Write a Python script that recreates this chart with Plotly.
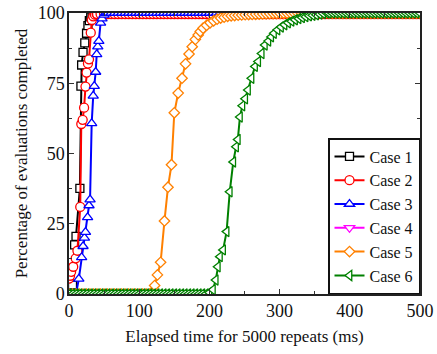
import plotly.graph_objects as go

# Sample grid used for the flat stretches (before a case starts / after it saturates)
STEP = 5
X_MAX = 500

# Rising part of each cumulative curve: elapsed time (ms) vs. percent completed
case1_x = [2, 5, 8, 10, 15.5, 17, 18, 20, 22.5, 25, 27, 29, 31, 33, 35.5, 38]
case1_y = [1.2, 3.2, 17.5, 20.5, 37.6, 74, 81.5, 86, 89.4, 92.8, 95.5, 97.3, 98.6, 99.3, 99.7, 100]

case2_x = [0, 1.5, 3, 6, 9.5, 12, 16, 17.5, 19.5, 21.5, 23.5, 25, 27, 28.5, 31, 32.5, 34.5, 37, 39.5]
case2_y = [5.5, 6.5, 7.9, 9.7, 12.7, 15.4, 31, 60.5, 62, 66.3, 73.8, 78.8, 82, 83.5, 93, 97.5, 98.8, 99.4, 99.6]

case3_x = [14, 18, 20, 22, 23.5, 26.5, 28.5, 30, 32.3, 34.5, 36, 38, 39.5, 41, 42.5, 45, 47, 50, 52.5]
case3_y = [5.4, 13, 17, 20, 22, 27.3, 31.5, 33.6, 60.7, 70.5, 74, 79, 85.3, 88, 90, 96.5, 98, 99.3, 100]

case4_x = [None]
case4_y = [None]

case5_x = [118, 122, 126, 130.5, 136, 141, 146, 150, 155.5, 161, 166, 171, 175.5, 180, 184, 187,
           191, 196, 201, 206, 211, 216, 221, 226, 231, 236, 241, 246, 251, 256, 261, 266, 271,
           276, 281, 286, 291, 296, 301, 306, 311, 316, 321, 326, 331]
case5_y = [0.5, 3, 6.8, 11.3, 26, 38, 46, 64.5, 71.5, 76.8, 81.9, 85.4, 88, 90.6, 92.2, 93.4,
           94.6, 95.6, 96.5, 97.2, 97.8, 98.2, 98.5, 98.8, 99, 99.1, 99.2, 99.3, 99.4, 99.45, 99.5,
           99.55, 99.6, 99.65, 99.7, 99.75, 99.8, 99.82, 99.85, 99.88, 99.9, 99.92, 99.95, 99.97, 100]

case6_x = [200, 205, 209, 212, 215, 219.5, 224.5, 229, 234, 238, 240.5, 243.5, 247, 251, 255, 260,
           265, 269.5, 274.5, 279, 284, 288, 292, 297, 302, 307, 312, 317, 322, 327, 332, 337,
           342, 347, 352, 357, 362, 367]
case6_y = [0.5, 1.5, 5, 9.7, 13.3, 15.7, 22.2, 36.4, 47, 52.4, 55, 63, 67, 69.5, 72.6, 76.8,
           81, 82.7, 85.6, 88.6, 90, 91.5, 92.8, 94, 95, 95.8, 96.5, 97.1, 97.6, 98, 98.4, 98.7,
           99, 99.2, 99.4, 99.6, 99.8, 100]

names = ["Case 1", "Case 2", "Case 3", "Case 4", "Case 5", "Case 6"]
colors = ["#000000", "#ff0000", "#0000ff", "#ff00ff", "#ff8000", "#008000"]
symbols = ["square", "circle", "triangle-up", "triangle-down", "diamond", "triangle-left"]
sizes = [8, 9, 9, 9, 8, 9]


def full_curve(xs, ys):
    """Pad a rising segment with the flat 0% lead-in and the saturated tail."""
    if xs[0] is None:
        return list(xs), list(ys)
    lead = [x for x in range(0, X_MAX + 1, STEP) if x < xs[0]]
    tail = [x for x in range(0, X_MAX + 1, STEP) if x > xs[-1]]
    return (lead + list(xs) + tail,
            [0.0] * len(lead) + list(ys) + [ys[-1]] * len(tail))


series = [(case1_x, case1_y), (case2_x, case2_y), (case3_x, case3_y),
          (case4_x, case4_y), (case5_x, case5_y), (case6_x, case6_y)]

fig = go.Figure()
for (xs, ys), name, col, sym, sz in zip(series, names, colors, symbols, sizes):
    fx, fy = full_curve(xs, ys)
    fig.add_trace(go.Scatter(
        x=fx, y=fy, name=name, mode="lines+markers",
        line=dict(color=col, width=2),
        marker=dict(symbol=sym, size=sz, color="white",
                    line=dict(color=col, width=1.3)),
        cliponaxis=True,
    ))

FONT = "Times New Roman, Times, Liberation Serif, DejaVu Serif, serif"
axis_common = dict(
    showline=True, linecolor="#222", linewidth=1.5, mirror="ticks",
    ticks="inside", ticklen=5, tickwidth=1.3, tickcolor="#333",
    showgrid=False, zeroline=False, automargin=False,
    tickfont=dict(family=FONT, size=18, color="#111"),
)

fig.update_layout(
    width=437, height=354,
    margin=dict(l=69, r=17, t=13, b=60),
    paper_bgcolor="white", plot_bgcolor="white",
    font=dict(family=FONT, color="#111"),
    xaxis=dict(range=[0, 500], tickvals=[0, 100, 200, 300, 400, 500],
               minor=dict(ticks="inside", ticklen=3, dtick=50, tick0=0, tickcolor="#333"),
               title=dict(text="Elapsed time for 5000 repeats (ms)",
                          font=dict(family=FONT, size=17), standoff=10),
               **axis_common),
    yaxis=dict(range=[0, 100], tickvals=[0, 25, 50, 75, 100],
               minor=dict(ticks="inside", ticklen=3, dtick=12.5, tick0=0, tickcolor="#333"),
               title=dict(text="Percentage of evaluations completed",
                          font=dict(family=FONT, size=17), standoff=6),
               ticklabelstandoff=-1,
               **axis_common),
    legend=dict(x=1, y=0, xanchor="right", yanchor="bottom",
                bgcolor="white", bordercolor="#111", borderwidth=1.5,
                font=dict(family=FONT, size=16, color="#111"),
                tracegroupgap=0, itemwidth=30),
    showlegend=True,
)

fig.write_html("out.html")
